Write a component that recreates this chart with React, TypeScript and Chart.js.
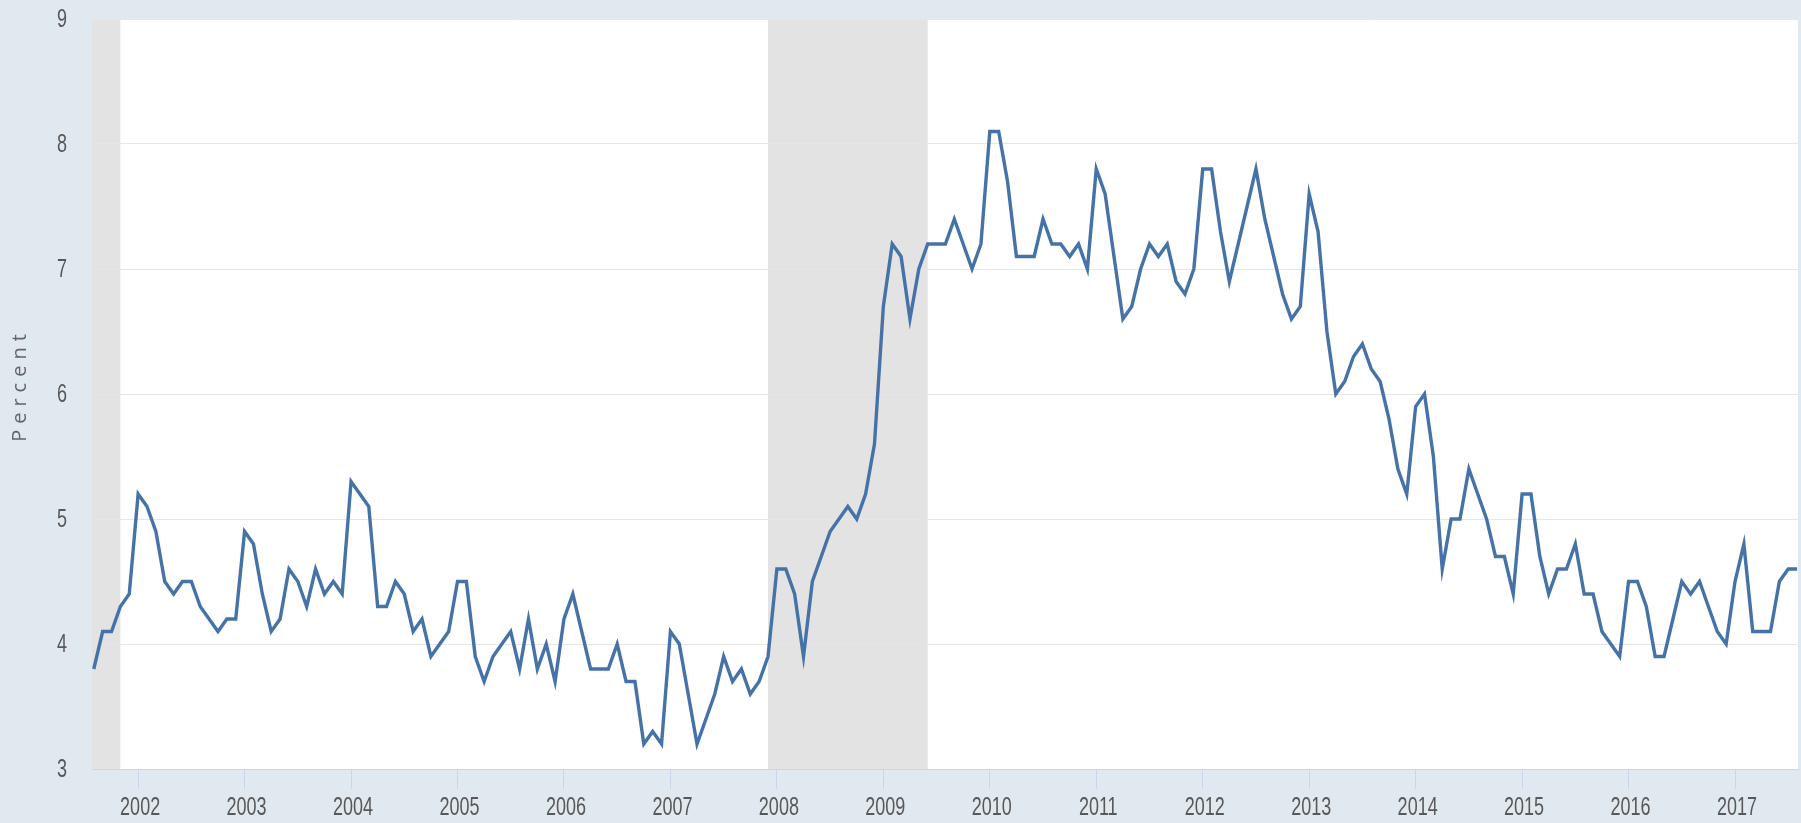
import React, { useEffect, useRef } from 'react';
import { Chart, registerables } from 'chart.js';

Chart.register(...registerables);

// Monthly unemployment rate (percent), Aug 2001 – Aug 2017
const firstMonth = '2001-08';
const baseYear = 2002; // x value 0 = Jan 2002

const rate2001 = [3.8, 4.1, 4.1, 4.3, 4.4]; // Aug–Dec
const rate2002 = [5.2, 5.1, 4.9, 4.5, 4.4, 4.5, 4.5, 4.3, 4.2, 4.1, 4.2, 4.2];
const rate2003 = [4.9, 4.8, 4.4, 4.1, 4.2, 4.6, 4.5, 4.3, 4.6, 4.4, 4.5, 4.4];
const rate2004 = [5.3, 5.2, 5.1, 4.3, 4.3, 4.5, 4.4, 4.1, 4.2, 3.9, 4.0, 4.1];
const rate2005 = [4.5, 4.5, 3.9, 3.7, 3.9, 4.0, 4.1, 3.8, 4.2, 3.8, 4.0, 3.7];
const rate2006 = [4.2, 4.4, 4.1, 3.8, 3.8, 3.8, 4.0, 3.7, 3.7, 3.2, 3.3, 3.2];
const rate2007 = [4.1, 4.0, 3.6, 3.2, 3.4, 3.6, 3.9, 3.7, 3.8, 3.6, 3.7, 3.9];
const rate2008 = [4.6, 4.6, 4.4, 3.9, 4.5, 4.7, 4.9, 5.0, 5.1, 5.0, 5.2, 5.6];
const rate2009 = [6.7, 7.2, 7.1, 6.6, 7.0, 7.2, 7.2, 7.2, 7.4, 7.2, 7.0, 7.2];
const rate2010 = [8.1, 8.1, 7.7, 7.1, 7.1, 7.1, 7.4, 7.2, 7.2, 7.1, 7.2, 7.0];
const rate2011 = [7.8, 7.6, 7.1, 6.6, 6.7, 7.0, 7.2, 7.1, 7.2, 6.9, 6.8, 7.0];
const rate2012 = [7.8, 7.8, 7.3, 6.9, 7.2, 7.5, 7.8, 7.4, 7.1, 6.8, 6.6, 6.7];
const rate2013 = [7.6, 7.3, 6.5, 6.0, 6.1, 6.3, 6.4, 6.2, 6.1, 5.8, 5.4, 5.2];
const rate2014 = [5.9, 6.0, 5.5, 4.6, 5.0, 5.0, 5.4, 5.2, 5.0, 4.7, 4.7, 4.4];
const rate2015 = [5.2, 5.2, 4.7, 4.4, 4.6, 4.6, 4.8, 4.4, 4.4, 4.1, 4.0, 3.9];
const rate2016 = [4.5, 4.5, 4.3, 3.9, 3.9, 4.2, 4.5, 4.4, 4.5, 4.3, 4.1, 4.0];
const rate2017 = [4.5, 4.8, 4.1, 4.1, 4.1, 4.5, 4.6, 4.6]; // Jan–Aug

const yearTickLabels = [
  '2002', '2003', '2004', '2005', '2006', '2007', '2008', '2009',
  '2010', '2011', '2012', '2013', '2014', '2015', '2016', '2017',
];
const yTickLabels = ['3', '4', '5', '6', '7', '8', '9'];

const recessionStarts = ['2001-03', '2007-12'];
const recessionEnds = ['2001-11', '2009-06'];

const yAxisTitle = 'Percent';
const yMin = 3;
const yMax = 9;

const monthIndex = (ym: string) => {
  const [y, m] = ym.split('-').map(Number);
  return (y - baseYear) * 12 + (m - 1);
};

const allRates = [
  ...rate2001, ...rate2002, ...rate2003, ...rate2004, ...rate2005, ...rate2006,
  ...rate2007, ...rate2008, ...rate2009, ...rate2010, ...rate2011, ...rate2012,
  ...rate2013, ...rate2014, ...rate2015, ...rate2016, ...rate2017,
];

const BG = '#e1e9f0';
const TEXT = '#585858';
const TICK_FONT = '25px "Liberation Sans", Arial, sans-serif';
const NARROW = 0.72; // horizontal squeeze to mimic the condensed tick font

export default function App() {
  const canvasRef = useRef<HTMLCanvasElement | null>(null);

  useEffect(() => {
    const canvas = canvasRef.current;
    if (!canvas) return;
    const start = monthIndex(firstMonth);
    const points = allRates.map((v, i) => ({ x: start + i, y: v }));
    const tickValues = yearTickLabels.map((lbl) => monthIndex(lbl + '-01'));

    const drawNarrow = (ctx: CanvasRenderingContext2D, text: string, x: number, y: number, align: CanvasTextAlign) => {
      ctx.save();
      ctx.translate(x, y);
      ctx.scale(NARROW, 1);
      ctx.textAlign = align;
      ctx.textBaseline = 'middle';
      ctx.fillText(text, 0, 0);
      ctx.restore();
    };

    const fredPlugin = {
      id: 'fredDecor',
      beforeDraw(chart: any) {
        const { ctx, chartArea: a, scales } = chart;
        const x = scales.x;
        ctx.save();
        ctx.fillStyle = BG;
        ctx.fillRect(0, 0, chart.width, chart.height);
        ctx.fillStyle = '#ffffff';
        ctx.fillRect(a.left, a.top, a.right - a.left, a.bottom - a.top);
        ctx.fillStyle = '#e3e3e3';
        recessionStarts.forEach((s, i) => {
          let x0 = x.getPixelForValue(monthIndex(s));
          let x1 = x.getPixelForValue(monthIndex(recessionEnds[i]));
          x0 = Math.max(x0, a.left);
          x1 = Math.min(x1, a.right);
          if (x1 > x0) ctx.fillRect(x0, a.top, x1 - x0, a.bottom - a.top);
        });
        ctx.restore();
      },
      afterDraw(chart: any) {
        const { ctx, chartArea: a, scales } = chart;
        ctx.save();
        ctx.fillStyle = TEXT;
        ctx.font = TICK_FONT;
        yearTickLabels.forEach((lbl, i) => {
          const px = scales.x.getPixelForValue(tickValues[i]);
          drawNarrow(ctx, lbl, px + 2, a.bottom + 39, 'center');
        });
        yTickLabels.forEach((lbl) => {
          const py = scales.y.getPixelForValue(Number(lbl));
          drawNarrow(ctx, lbl, a.left - 25, py + 1, 'right');
        });
        ctx.restore();

        ctx.save();
        ctx.translate(20, (a.top + a.bottom) / 2 - 6);
        ctx.rotate(-Math.PI / 2);
        ctx.fillStyle = '#666666';
        ctx.font = '20px "Open Sans", sans-serif';
        try { (ctx as any).letterSpacing = '6px'; } catch (e) { /* ignore */ }
        ctx.textAlign = 'center';
        ctx.textBaseline = 'middle';
        ctx.fillText(yAxisTitle, 3, 0);
        ctx.restore();
      },
    };

    const chart = new Chart(canvas, {
      type: 'line',
      data: {
        datasets: [
          {
            label: 'Unemployment rate',
            data: points,
            borderColor: '#4572a7',
            borderWidth: 3.4,
            pointRadius: 0,
            tension: 0,
            fill: false,
          },
        ],
      },
      options: {
        animation: false,
        responsive: false,
        devicePixelRatio: 1,
        layout: { padding: { left: 0, right: 3, top: 19, bottom: 0 } },
        plugins: {
          legend: { display: false },
          tooltip: { enabled: false },
          title: { display: false },
        },
        scales: {
          x: {
            type: 'linear',
            min: -5.2,
            max: 187.1,
            afterBuildTicks: (scale: any) => {
              scale.ticks = tickValues.map((v) => ({ value: v }));
            },
            afterFit: (scale: any) => {
              scale.height = 54;
              scale.paddingLeft = 0;
              scale.paddingRight = 0;
            },
            ticks: { display: false, autoSkip: false, maxRotation: 0 },
            grid: {
              drawOnChartArea: false,
              drawTicks: true,
              tickLength: 20,
              tickColor: '#ccd6eb',
              tickWidth: 1,
            },
            border: { display: true, color: '#ccd6eb', width: 1 },
          },
          y: {
            type: 'linear',
            min: yMin,
            max: yMax,
            afterFit: (scale: any) => {
              scale.width = 92;
              scale.paddingTop = 0;
              scale.paddingBottom = 0;
            },
            ticks: { display: false, stepSize: 1 },
            grid: {
              color: '#e6e6e6',
              lineWidth: 1,
              drawTicks: false,
            },
            border: { display: false },
          },
        },
      },
      plugins: [fredPlugin],
    });

    return () => {
      chart.destroy();
    };
  }, []);

  return (
    <div
      style={{
        position: 'fixed',
        left: 0,
        top: 0,
        width: 1801,
        height: 823,
        background: BG,
        overflow: 'hidden',
      }}
    >
      <canvas ref={canvasRef} width={1801} height={823} style={{ display: 'block' }} />
    </div>
  );
}
